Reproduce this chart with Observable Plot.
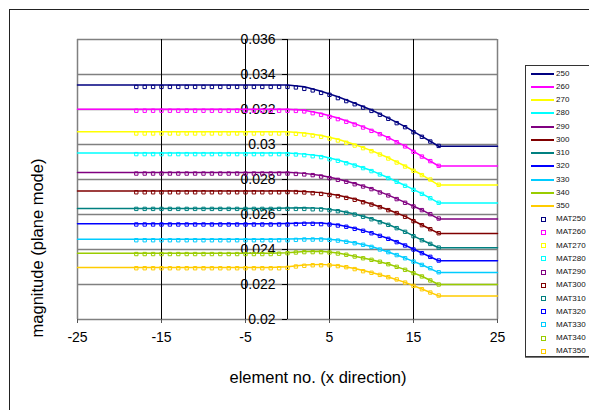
<!DOCTYPE html>
<html><head><meta charset="utf-8">
<script src="https://cdn.jsdelivr.net/npm/d3@7"></script>
<script src="https://cdn.jsdelivr.net/npm/@observablehq/plot@0.6"></script>
<style>
html,body{margin:0;padding:0;width:589px;height:410px;overflow:hidden;background:#fff;font-family:"Liberation Sans",Arial,sans-serif;}
#wrap{position:relative;width:589px;height:410px;overflow:hidden;}
#frame{position:absolute;left:9px;top:9px;width:700px;height:500px;border:1px solid #222;box-sizing:border-box;pointer-events:none;}
#chart{position:absolute;left:0;top:0;}
#ytitle{position:absolute;left:37px;top:248px;width:0;height:0;}
#ytitle span{position:absolute;white-space:nowrap;font-size:16.5px;line-height:19px;transform:translate(-50%,-50%) rotate(-90deg);left:0;top:0;}
#xtitle{position:absolute;left:218px;width:200px;top:368px;text-align:center;font-size:16.5px;line-height:19px;white-space:nowrap;}
#legend{position:absolute;left:525px;top:65px;width:80px;height:292px;border:1px solid #333;box-shadow:0 1px 0 #777;background:#fff;box-sizing:border-box;}
.row{position:absolute;left:0;height:13px;width:80px;}
.ln{position:absolute;left:5px;width:23px;top:6px;height:0;border-top:2px solid;}
.mk{position:absolute;left:14.5px;top:4.5px;width:3px;height:3px;border:1px solid;}
.lb{position:absolute;left:30px;top:0;line-height:13px;font-size:8px;color:#111;}
</style></head>
<body>
<div id="wrap">
<div id="chart"></div>
<div id="frame"></div>
<div id="ytitle"><span>magnitude (plane mode)</span></div>
<div id="xtitle">element no. (x direction)</div>
<div id="legend"></div>
</div>
<script>
const series = ["250","260","270","280","290","300","310","320","330","340","350"];
const markerNames = ["MAT250","MAT260","MAT270","MAT280","MAT290","MAT300","MAT310","MAT320","MAT330","MAT340","MAT350"];
const colors = ["#000080","#FF00FF","#FFFF00","#00FFFF","#800080","#800000","#008080","#0000FF","#00CCFF","#99CC00","#FFCC00"];

const xTicks = [-25,-15,-5,5,15,25];
const xLabels = ["-25","-15","-5","5","15","25"];
const yTicks = [0.02,0.022,0.024,0.026,0.028,0.03,0.032,0.034,0.036];
const yLabels = ["0.02","0.022","0.024","0.026","0.028","0.03","0.032","0.034","0.036"];
const vGrid = [-15,-5,5,15];

// line (curve) series
const lineX = [-25,-2,0,2,4,6,8,10,12,14,16,18,25];
const line250 = [0.03340,0.03340,0.03340,0.03330,0.03304,0.03273,0.03236,0.03197,0.03151,0.03102,0.03046,0.02990,0.02990];
const line260 = [0.03201,0.03201,0.03202,0.03196,0.03177,0.03151,0.03119,0.03082,0.03039,0.02991,0.02932,0.02877,0.02877];
const line270 = [0.03073,0.03073,0.03073,0.03066,0.03052,0.03030,0.03000,0.02965,0.02924,0.02877,0.02827,0.02768,0.02768];
const line280 = [0.02951,0.02951,0.02952,0.02945,0.02934,0.02911,0.02883,0.02851,0.02810,0.02766,0.02719,0.02666,0.02666];
const line290 = [0.02840,0.02840,0.02841,0.02835,0.02823,0.02803,0.02777,0.02748,0.02711,0.02669,0.02626,0.02575,0.02575];
const line300 = [0.02735,0.02735,0.02736,0.02731,0.02725,0.02710,0.02689,0.02660,0.02627,0.02589,0.02540,0.02492,0.02492];
const line310 = [0.02635,0.02635,0.02637,0.02638,0.02635,0.02623,0.02603,0.02576,0.02543,0.02502,0.02454,0.02410,0.02410];
const line320 = [0.02547,0.02547,0.02549,0.02552,0.02551,0.02541,0.02521,0.02495,0.02463,0.02424,0.02380,0.02336,0.02336];
const line330 = [0.02458,0.02458,0.02460,0.02462,0.02461,0.02454,0.02439,0.02417,0.02386,0.02351,0.02313,0.02268,0.02268];
const line340 = [0.02379,0.02379,0.02381,0.02389,0.02390,0.02380,0.02362,0.02342,0.02317,0.02285,0.02247,0.02200,0.02200];
const line350 = [0.02297,0.02297,0.02302,0.02312,0.02315,0.02309,0.02291,0.02269,0.02243,0.02212,0.02174,0.02135,0.02135];

// marker (MAT) series, x = -18 .. 18
const markerX = [-18,-17,-16,-15,-14,-13,-12,-11,-10,-9,-8,-7,-6,-5,-4,-3,-2,-1,0,1,2,3,4,5,6,7,8,9,10,11,12,13,14,15,16,17,18];
const mat250 = [0.03329,0.03329,0.03329,0.03329,0.03329,0.03329,0.03329,0.03329,0.03329,0.03329,0.03329,0.03329,0.03329,0.03329,0.03329,0.03329,0.03329,0.03329,
  0.03329,0.03326,0.03318,0.03309,0.03295,0.03284,0.03265,0.03248,0.03230,0.03211,0.03192,0.03170,0.03147,0.03122,0.03099,0.03070,0.03044,0.03017,0.02992];
const mat260 = [0.03193,0.03193,0.03193,0.03193,0.03193,0.03193,0.03193,0.03193,0.03193,0.03193,0.03193,0.03193,0.03193,0.03193,0.03193,0.03193,0.03193,0.03193,
  0.03193,0.03192,0.03189,0.03179,0.03170,0.03158,0.03145,0.03130,0.03114,0.03097,0.03078,0.03059,0.03036,0.03013,0.02989,0.02958,0.02931,0.02905,0.02878];
const mat270 = [0.03063,0.03063,0.03063,0.03063,0.03063,0.03063,0.03063,0.03063,0.03063,0.03063,0.03063,0.03063,0.03063,0.03063,0.03063,0.03063,0.03063,0.03063,
  0.03063,0.03061,0.03057,0.03051,0.03044,0.03034,0.03023,0.03010,0.02994,0.02979,0.02962,0.02943,0.02920,0.02897,0.02874,0.02850,0.02825,0.02800,0.02770];
const mat280 = [0.02945,0.02945,0.02945,0.02945,0.02945,0.02945,0.02945,0.02945,0.02945,0.02945,0.02945,0.02945,0.02945,0.02945,0.02945,0.02945,0.02945,0.02945,
  0.02945,0.02943,0.02939,0.02933,0.02928,0.02916,0.02907,0.02893,0.02880,0.02865,0.02848,0.02829,0.02808,0.02787,0.02764,0.02741,0.02718,0.02693,0.02667];
const mat290 = [0.02834,0.02834,0.02834,0.02834,0.02834,0.02834,0.02834,0.02834,0.02834,0.02834,0.02834,0.02834,0.02834,0.02834,0.02834,0.02834,0.02834,0.02834,
  0.02834,0.02832,0.02829,0.02825,0.02817,0.02808,0.02798,0.02787,0.02773,0.02760,0.02745,0.02726,0.02709,0.02688,0.02667,0.02646,0.02625,0.02602,0.02577];
const mat300 = [0.02727,0.02727,0.02727,0.02727,0.02727,0.02727,0.02727,0.02727,0.02727,0.02727,0.02727,0.02727,0.02727,0.02727,0.02727,0.02727,0.02727,0.02727,
  0.02728,0.02728,0.02726,0.02722,0.02718,0.02712,0.02705,0.02695,0.02684,0.02670,0.02657,0.02642,0.02625,0.02608,0.02587,0.02562,0.02539,0.02516,0.02493];
const mat310 = [0.02632,0.02632,0.02632,0.02632,0.02632,0.02632,0.02632,0.02632,0.02632,0.02632,0.02632,0.02632,0.02632,0.02632,0.02632,0.02632,0.02632,0.02632,
  0.02632,0.02632,0.02632,0.02630,0.02629,0.02625,0.02619,0.02610,0.02600,0.02587,0.02573,0.02556,0.02541,0.02522,0.02501,0.02476,0.02453,0.02432,0.02411];
const mat320 = [0.02543,0.02543,0.02543,0.02543,0.02543,0.02543,0.02543,0.02543,0.02543,0.02543,0.02543,0.02543,0.02543,0.02543,0.02543,0.02543,0.02543,0.02543,
  0.02543,0.02545,0.02547,0.02547,0.02545,0.02543,0.02537,0.02530,0.02518,0.02507,0.02493,0.02478,0.02461,0.02442,0.02423,0.02400,0.02379,0.02358,0.02337];
const mat330 = [0.02453,0.02453,0.02453,0.02453,0.02453,0.02453,0.02453,0.02453,0.02453,0.02453,0.02453,0.02453,0.02453,0.02453,0.02453,0.02453,0.02453,0.02453,
  0.02453,0.02455,0.02457,0.02457,0.02457,0.02455,0.02451,0.02444,0.02436,0.02427,0.02415,0.02400,0.02385,0.02368,0.02350,0.02331,0.02312,0.02293,0.02270];
const mat340 = [0.02374,0.02374,0.02374,0.02374,0.02374,0.02374,0.02374,0.02374,0.02374,0.02374,0.02374,0.02374,0.02374,0.02374,0.02374,0.02374,0.02374,0.02376,
  0.02379,0.02383,0.02385,0.02385,0.02385,0.02383,0.02377,0.02370,0.02360,0.02350,0.02341,0.02330,0.02316,0.02301,0.02284,0.02265,0.02246,0.02223,0.02200];
const mat350 = [0.02293,0.02293,0.02293,0.02293,0.02293,0.02293,0.02293,0.02293,0.02293,0.02293,0.02293,0.02293,0.02293,0.02293,0.02293,0.02293,0.02293,0.02293,
  0.02295,0.02303,0.02307,0.02310,0.02310,0.02310,0.02305,0.02299,0.02288,0.02276,0.02267,0.02255,0.02242,0.02229,0.02211,0.02192,0.02173,0.02154,0.02137];

const lineArrays = [line250,line260,line270,line280,line290,line300,line310,line320,line330,line340,line350];
const matArrays = [mat250,mat260,mat270,mat280,mat290,mat300,mat310,mat320,mat330,mat340,mat350];

const lineData = series.flatMap((s,i) => lineX.map((x,j) => ({series:s, color:colors[i], x, y:lineArrays[i][j]})));
const markerData = markerNames.flatMap((s,i) => markerX.map((x,j) => ({series:s, color:colors[i], x, y:matArrays[i][j]})));
const yTickData = yTicks.map((v,i) => ({v, label:yLabels[i]}));

const font = '"Liberation Sans", Arial, sans-serif';
const chart = Plot.plot({
  width: 589, height: 410,
  marginLeft: 77, marginRight: 92, marginTop: 39, marginBottom: 91,
  x: {domain: [-25, 25], axis: null},
  y: {domain: [0.02, 0.036], axis: null},
  color: {type: "identity"},
  style: {fontFamily: font, background: "transparent", overflow: "visible"},
  marks: [
    Plot.ruleY(yTicks, {y: d => d, stroke: "#808080", strokeWidth: 1.5}),
    Plot.ruleX(vGrid, {x: d => d, stroke: "#000", strokeWidth: 1}),
    Plot.ruleX([-25, 25], {x: d => d, stroke: "#808080", strokeWidth: 1.5}),
    Plot.ruleX([0], {x: d => d, stroke: "#000", strokeWidth: 1}),
    Plot.ruleY(yTicks, {y: d => d, x1: () => -0.6, x2: () => 0, stroke: "#000"}),
    Plot.text(yTickData, {x: () => 0, y: "v", text: "label", textAnchor: "end", dx: -12, fontSize: 14, fill: "#000"}),
    Plot.axisX(xTicks, {tickSize: 4, tickPadding: 9, fontSize: 14, stroke: "#555", fill: "#000", label: null,
      tickFormat: d => xLabels[xTicks.indexOf(d)]}),
    Plot.line(lineData, {x: "x", y: "y", z: "series", stroke: "color", strokeWidth: 1.5}),
    Plot.dot(markerData, {x: "x", y: "y", symbol: "square", r: 1.9, stroke: "color", strokeWidth: 1, fill: "none"})
  ]
});
document.getElementById("chart").appendChild(chart);

// legend
const legend = document.getElementById("legend");
const rows = series.map((s,i) => ({label:s, color:colors[i], kind:"line"}))
  .concat(markerNames.map((s,i) => ({label:s, color:colors[i], kind:"marker"})));
rows.forEach((r,i) => {
  const row = document.createElement("div");
  row.className = "row";
  row.style.top = (0.8 + 13.22*i) + "px";
  const sw = document.createElement("div");
  sw.className = r.kind === "line" ? "ln" : "mk";
  sw.style.borderColor = r.color;
  row.appendChild(sw);
  const lb = document.createElement("div");
  lb.className = "lb";
  lb.textContent = r.label;
  row.appendChild(lb);
  legend.appendChild(row);
});
</script>
</body></html>
